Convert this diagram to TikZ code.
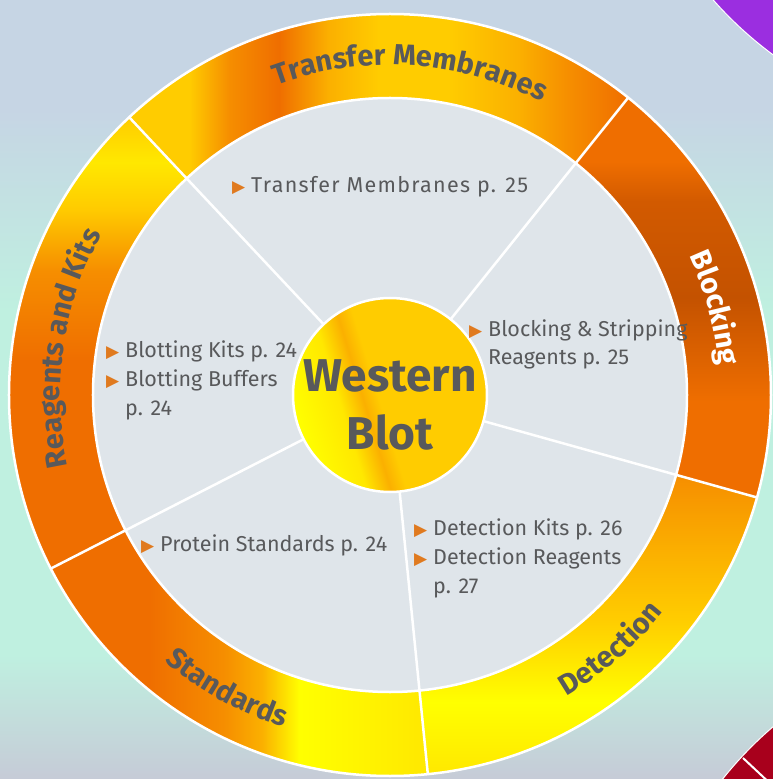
\documentclass[tikz,border=0pt]{standalone}
\usepackage{fontspec}
\setmainfont{Fira Sans}
\newfontfamily\symfont{DejaVu Sans}
\usetikzlibrary{decorations.text}
\definecolor{txtgray}{HTML}{58595B}
\definecolor{bulorange}{HTML}{E07A1F}
\definecolor{diskgray}{HTML}{DFE5EA}
\definecolor{bgtop}{HTML}{C6D5E4}
\definecolor{bgmid}{HTML}{BFF0E0}
\definecolor{bgbot}{HTML}{C6CBD7}
\definecolor{purp}{HTML}{9B2EE0}
\definecolor{wine}{HTML}{A8001C}
\definecolor{c1}{HTML}{FFFF00}
\definecolor{c2}{HTML}{FFE800}
\definecolor{c3}{HTML}{FFCC00}
\definecolor{c4}{HTML}{FBB000}
\definecolor{c5}{HTML}{F68E00}
\definecolor{c6}{HTML}{EF6E00}
\definecolor{c7}{HTML}{D25A00}
\definecolor{c8}{HTML}{C45200}
% background and ring shadings
\pgfdeclareverticalshading{shbg}{100bp}{color(0bp)=(bgbot); color(25bp)=(bgbot); color(33bp)=(bgmid);
  color(55bp)=(bgmid); color(68bp)=(bgtop); color(75bp)=(bgtop); color(100bp)=(bgtop)}
\pgfdeclarehorizontalshading{shtransfer}{100bp}{color(0bp)=(c3); color(25bp)=(c3); color(31bp)=(c3);
  color(35bp)=(c5); color(40bp)=(c6); color(45bp)=(c4); color(50bp)=(c3); color(57bp)=(c3);
  color(64bp)=(c4); color(69bp)=(c5); color(75bp)=(c6); color(100bp)=(c6)}
\pgfdeclareverticalshading{shblock}{100bp}{color(0bp)=(c6); color(25bp)=(c6); color(37bp)=(c6);
  color(50bp)=(c8); color(62bp)=(c7); color(67bp)=(c6); color(75bp)=(c6); color(100bp)=(c6)}
\pgfdeclareverticalshading{shdetect}{100bp}{color(0bp)=(c2); color(25bp)=(c2); color(37bp)=(c1);
  color(51bp)=(c3); color(62bp)=(c4); color(75bp)=(c5); color(100bp)=(c5)}
\pgfdeclarehorizontalshading{shstd}{100bp}{color(0bp)=(c6); color(25bp)=(c6); color(38bp)=(c6);
  color(48bp)=(c5); color(53bp)=(c4); color(58bp)=(c1); color(75bp)=(c2); color(100bp)=(c2)}
\pgfdeclareverticalshading{shreag}{100bp}{color(0bp)=(c6); color(25bp)=(c6); color(48bp)=(c6);
  color(58bp)=(c5); color(65bp)=(c3); color(70bp)=(c2); color(75bp)=(c3); color(100bp)=(c3)}
\pgfdeclarehorizontalshading{shdisc}{100bp}{color(0bp)=(c1); color(25bp)=(c1); color(37bp)=(c2);
  color(43bp)=(c4); color(47bp)=(c3); color(57bp)=(c3); color(75bp)=(c3); color(100bp)=(c3)}
\newcommand{\ringfont}{\bfseries\fontsize{29}{29}\selectfont}
\newcommand{\tri}{\makebox[19pt][l]{\symfont\fontsize{17}{17}\selectfont\textcolor{bulorange}{▶}}}
\begin{document}
\begin{tikzpicture}[x=1pt, y=1pt,
  ringpart/.style 2 args={insert path={(#1:381) arc[start angle=#1, end angle=#2, radius=381]
      -- (#2:297) arc[start angle=#2, end angle=#1, radius=297] -- cycle}},
  divider/.style={draw=white, line width=2.5pt},
  ringlabel/.style 2 args={decorate, decoration={text along path, text align=center,
      text color=#1, text={|\ringfont|#2}}},
  item/.style={anchor=base west, align=left, text=txtgray, inner sep=0pt,
      font=\fontsize{21.5}{29}\selectfont}]
\useasboundingbox (-390,-384) rectangle (383,395);
% background
\shade[shading=shbg] (-390,-384) rectangle (383,395);
\begin{scope}
  \clip (-390,-384) rectangle (383,395);
  \fill[purp, draw=white, line width=1pt] (609,647) circle[radius=381];
  \fill[wine, draw=white, line width=1pt] (631,-621) circle[radius=381];
  \draw[white, line width=2pt] (353,-363) -- (385,-393);
\end{scope}
% ring
\shade[shading=shtransfer, ringpart={51.3}{133.2}];
\shade[shading=shblock, ringpart={-15.6}{51.3}];
\shade[shading=shdetect, ringpart={-84.3}{-15.6}];
\shade[shading=shstd, ringpart={-152.9}{-84.3}];
\shade[shading=shreag, ringpart={133.2}{207.1}];
\draw[white, line width=2.5pt] (0,0) circle[radius=381];
\filldraw[fill=diskgray, draw=white, line width=2.5pt] (0,0) circle[radius=297];
\foreach \a in {133.2,51.3,-15.6,-84.3,-152.9}
  \draw[divider] (\a:97) -- (\a:381);
\shadedraw[shading=shdisc, shading angle=17, draw=white, line width=2.5pt] (0,0) circle[radius=97];
% ring labels
\path[ringlabel={txtgray}{Transfer Membranes}] (126.4:330) arc[start angle=126.4, end angle=46.4, radius=330];
\path[ringlabel={white}{Blocking}] (40:330) arc[start angle=40, end angle=-10, radius=330];
\path[ringlabel={txtgray}{Detection}] (-74:349) arc[start angle=-74, end angle=-24, radius=349];
\path[ringlabel={txtgray}{Standards}] (-144:349) arc[start angle=-144, end angle=-94, radius=349];
\path[ringlabel={txtgray}{Reagents and Kits}] (200:330) arc[start angle=200, end angle=143.4, radius=330];
% texts
\node[text=txtgray, align=center, font=\bfseries\fontsize{46}{58}\selectfont] (wb) at (0,-10) {Western\\Blot};
\node[item] (tm) at (-158,202) {\tri\addfontfeature{LetterSpace=6}Transfer Membranes p. 25};
\node[item] (bs) at (79,30) {\tri Blocking \& Stripping\\\hspace{19pt}Reagents p. 25};
\node[item] (bk) at (-284,-20) {\tri Blotting Kits p. 24\\\tri Blotting Buffers\\\hspace{19pt}p. 24};
\node[item] (ps) at (-249,-156) {\tri Protein Standards p. 24};
\node[item] (dk) at (24,-198) {\tri Detection Kits p. 26\\\tri Detection Reagents\\\hspace{19pt}p. 27};
\end{tikzpicture}
\end{document}
